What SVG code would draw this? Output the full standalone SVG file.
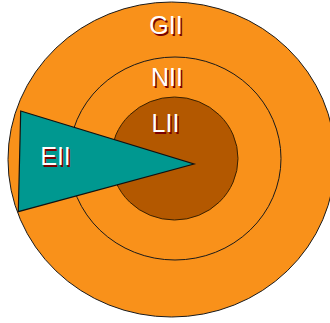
<svg xmlns="http://www.w3.org/2000/svg" width="330" height="323" viewBox="0 0 330 323">
<style>
.ring{fill:#F9911A;stroke:#1a1a1a;stroke-width:1}
.core{fill:#B35800;stroke:#3a2000;stroke-width:1}
.wedge{fill:#009890;stroke:#111;stroke-width:1.2}
.lbl{font-family:"Liberation Sans",Arial,sans-serif;font-size:25px;text-anchor:middle}
.sh{fill:#7A0000}
.fg{fill:#ffffff}
</style>
<rect width="330" height="323" fill="#ffffff"/>
<g id="GII">
<ellipse class="ring" cx="171.6" cy="159.5" rx="163.6" ry="157.5"/>
<text class="lbl sh" x="167.5" y="35.5">GII</text>
<text class="lbl fg" x="166" y="34">GII</text>
</g>
<g id="NII">
<ellipse class="ring" cx="175" cy="158.5" rx="106" ry="101.5"/>
<text class="lbl sh" x="168.5" y="87.5">NII</text>
<text class="lbl fg" x="167" y="86">NII</text>
</g>
<g id="LII">
<ellipse class="core" cx="174.5" cy="158.5" rx="63.5" ry="61.5"/>
<text class="lbl sh" x="167" y="133.5">LII</text>
<text class="lbl fg" x="165.5" y="132">LII</text>
</g>
<g id="EII">
<polygon class="wedge" points="20.7,111 194,164 18.3,211.7"/>
<text class="lbl sh" x="57" y="166.5">EII</text>
<text class="lbl fg" x="55.5" y="165">EII</text>
</g>
<g id="connectors"></g>
</svg>
